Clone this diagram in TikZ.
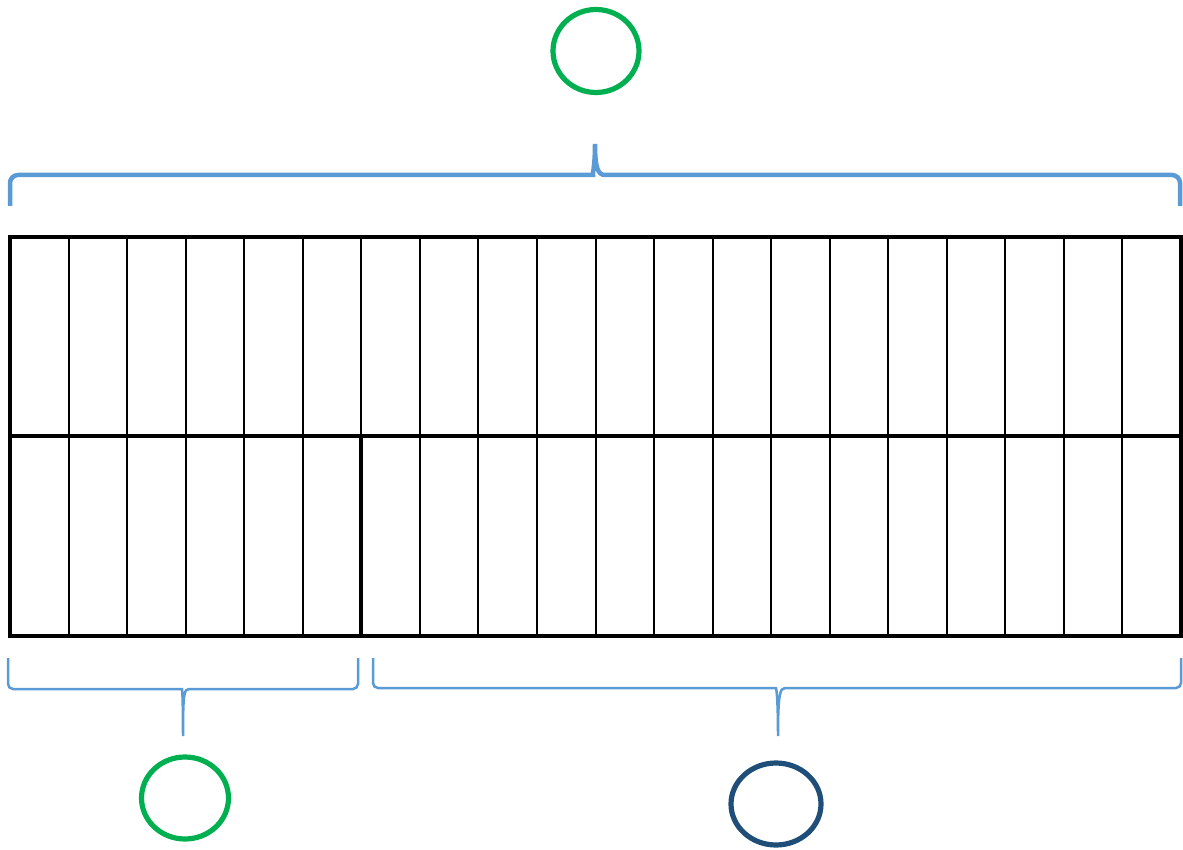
\documentclass[tikz,border=0pt]{standalone}
\usetikzlibrary{shapes.geometric}
\usepackage{xcolor}
\definecolor{bracecol}{HTML}{5B9BD5}
\definecolor{okgreen}{HTML}{00B050}
\definecolor{navy}{HTML}{1F4E79}

\begin{document}
\begin{tikzpicture} [x=1pt, y=-1pt,
  cellline/.style={black, line width=2},
  frameline/.style={black, line width=4.2},
  bracebig/.style={bracecol, line width=4.5, rounded corners=8},
  bracesmall/.style={bracecol, line width=2.5, rounded corners=5},
  ring/.style={ellipse, draw, line width=5.2, inner sep=0}]
\useasboundingbox (0,0) rectangle (1183,850);
% columns of the strip
\foreach \i in {1,...,19} {
 \draw[cellline] ({10+\i*58.55},237) --++(0,399);
}
\draw[frameline] (10,436) -- (1181,436);
\draw[frameline] (361,436) -- (361,636);
\draw[frameline] (10,237) rectangle (1181,636);
% braces
\draw[bracebig] (10,206) -- (10,175) -- (585,175) [sharp corners]
 .. controls (592,175) and (595,168) .. (595,144)
 .. controls (595,168) and (598,175) .. (605,175) [rounded corners=8]
 -- (1180,175) -- (1180,206);
\draw[bracesmall] (8,658) -- (8,689) -- (177,689) [sharp corners]
 .. controls (182,689) and (183,694) .. (183,736)
 .. controls (183,694) and (184,689) .. (189,689) [rounded corners=5]
 -- (358,689) -- (358,658);
\draw[bracesmall] (373,658) -- (373,688) -- (771,688) [sharp corners]
 .. controls (776,688) and (778,694) .. (778,736)
 .. controls (778,694) and (780,688) .. (785,688) [rounded corners=5]
 -- (1181,688) -- (1181,658);
% markers
\node[ring, okgreen, minimum width=86, minimum height=83] (top) at (596,51) {};
\node[ring, okgreen, minimum width=87, minimum height=82] (left) at (185,798) {};
\node[ring, navy, minimum width=90, minimum height=82] (right) at (776,804) {};
\end{tikzpicture}
\end{document}
